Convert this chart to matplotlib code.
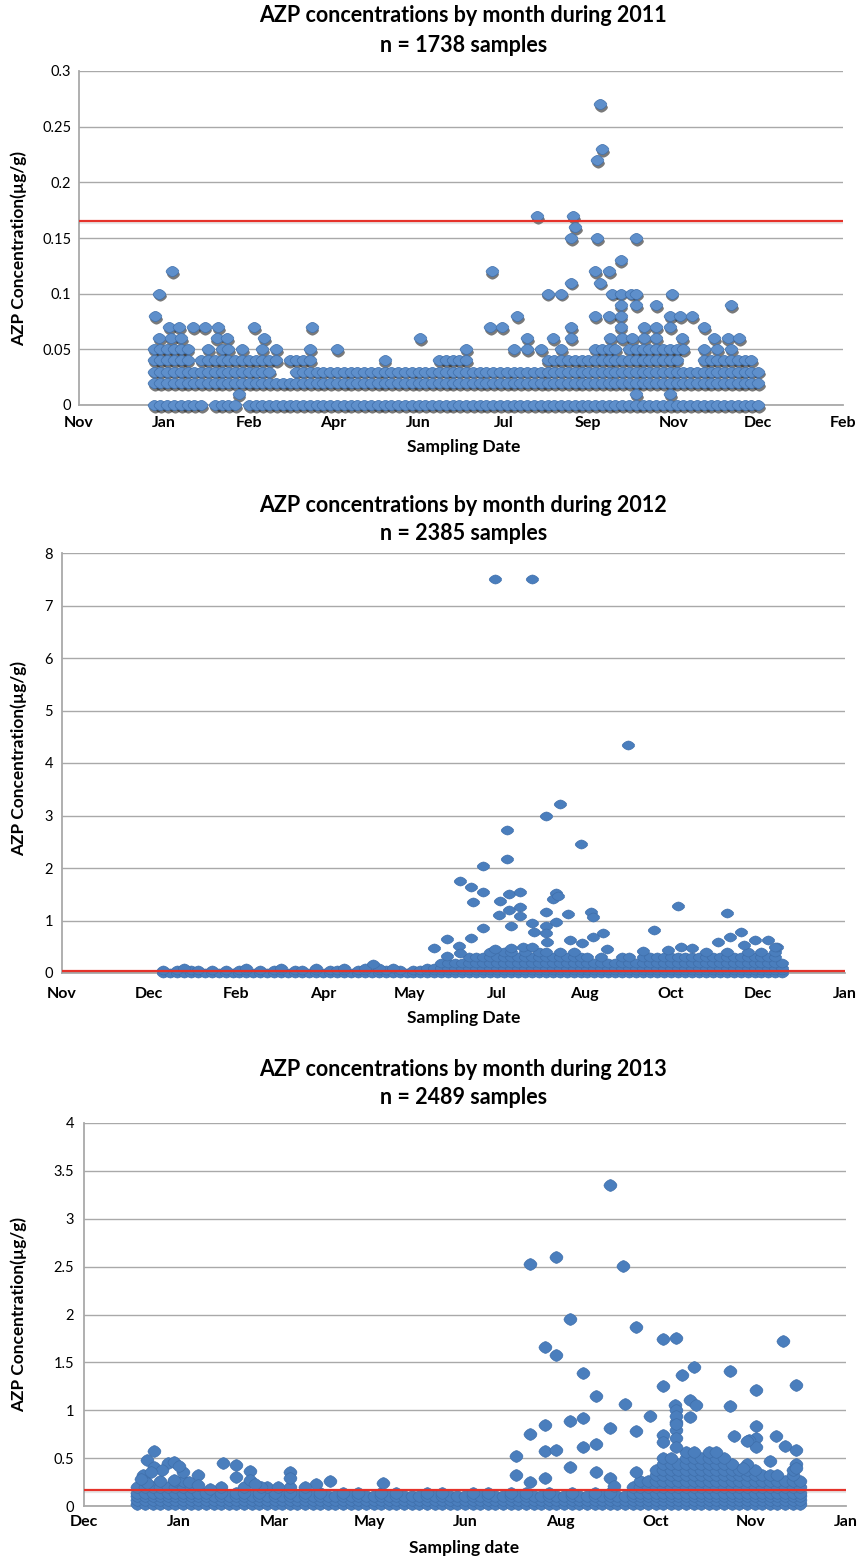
import numpy as np
import matplotlib
matplotlib.use("Agg")
import matplotlib.pyplot as plt
from matplotlib.transforms import ScaledTranslation

plt.rcParams['font.family'] = ['Lato', 'DejaVu Sans']

W, H, DPI = 859, 1560, 100

# ---------------------------------------------------------------- 2011
TITLE_2011 = "AZP concentrations by month during 2011"
COUNT_2011 = "n = 1738 samples"
XLABEL_2011 = "Sampling Date"
MONTHS_2011 = ["Nov", "Jan", "Feb", "Apr", "Jun", "Jul", "Sep", "Nov", "Dec", "Feb"]
YTICKS_2011 = [0, 0.05, 0.1, 0.15, 0.2, 0.25, 0.3]
YLABELS_2011 = ["0", "0.05", "0.1", "0.15", "0.2", "0.25", "0.3"]
LIMIT_2011 = 0.165

# dense rows: one character per 4-day column, 'o' = sample present
LEVELS_2011 = [0.00, 0.02, 0.03, 0.04, 0.05]
ROWS_2011 = [
    "oooooooo.o" "ooo.oooooo" "oooooooooo" "oooooooooo" "oooooooooo"
    "oooooooooo" "oooooooooo" "oooooooooo" "oooooooooo",
    "oooooooooo" "oooooooooo" "oooooooooo" "oooooooooo" "oooooooooo"
    "oooooooooo" "oooooooooo" "oooooooooo" "oooooooooo",
    "oooooooooo" "oooooooo.." ".ooooooooo" "oooooooooo" "oooooooooo"
    "oooooooooo" "oooooooooo" "oooooooooo" "oooooooooo",
    "oooooo.ooo" "ooooooooo." "oooo......" "....o....." "..ooooo..."
    "........oo" "oooooooooo" "oooooooo.." ".oooooooo.",
    "oooooo..o." "oo.o..o.o." "...o...o.." ".........." "......o..."
    "...o.o.o.." "o....oooo." "ooooooooo." ".o.o.o....",
]
# individual samples above the dense rows (day of year, µg/g)
DAYS_2011 = [263, 264, 261, 226, 247, 248, 246, 261, 284, 275,
             11, 199, 260, 268, 246, 263,
             3, 232, 240, 270, 275, 281, 284, 305,
             275, 284, 296, 340,
             1, 214, 260, 268, 275, 304, 310, 317,
             9, 15, 23, 30, 38, 59, 93, 198, 205, 246, 275, 289, 296, 304, 324,
             3, 10, 16, 37, 43, 65, 157, 220, 235, 246, 269, 276, 282, 289,
             296, 311, 330, 338, 345,
             50, 284, 304]
VALUES_2011 = [0.27, 0.23, 0.22, 0.17, 0.17, 0.16, 0.15, 0.15, 0.15, 0.13,
               0.12, 0.12, 0.12, 0.12, 0.11, 0.11,
               0.10, 0.10, 0.10, 0.10, 0.10, 0.10, 0.10, 0.10,
               0.09, 0.09, 0.09, 0.09,
               0.08, 0.08, 0.08, 0.08, 0.08, 0.08, 0.08, 0.08,
               0.07, 0.07, 0.07, 0.07, 0.07, 0.07, 0.07, 0.07, 0.07, 0.07,
               0.07, 0.07, 0.07, 0.07, 0.07,
               0.06, 0.06, 0.06, 0.06, 0.06, 0.06, 0.06, 0.06, 0.06, 0.06,
               0.06, 0.06, 0.06, 0.06, 0.06, 0.06, 0.06, 0.06, 0.06,
               0.01, 0.01, 0.01]

# ---------------------------------------------------------------- 2012
TITLE_2012 = "AZP concentrations by month during 2012"
COUNT_2012 = "n = 2385 samples"
XLABEL_2012 = "Sampling Date"
MONTHS_2012 = ["Nov", "Dec", "Feb", "Apr", "May", "Jul", "Aug", "Oct", "Dec", "Jan"]
YTICKS_2012 = [0, 1, 2, 3, 4, 5, 6, 7, 8]
YLABELS_2012 = ["0", "1", "2", "3", "4", "5", "6", "7", "8"]
LIMIT_2012 = 0.03

LEVELS_2012 = [0.0, 0.06, 0.1, 0.2, 0.3, 0.4]
ROWS_2012 = [
    "oooooooooo" "oooooooooo" "oooooooooo" "oooooooooo" "oooooooooo"
    "oooooooooo" "oooooooooo" "oooooooooo" "oooooooooo",
    "o.o.oo.o.o" ".oo.o.oo.o" "o.o.ooo.oo" ".oo.o.oooo" "oooooooooo"
    "oooooooooo" "oooooooooo" "oooooooooo" "oooooooooo",
    "...o......" "..o....o.." "..o...o..o" ".o.o....oo" "oooooooooo"
    "oooooooooo" "oooooooooo" "oooooooooo" "oooooooooo",
    ".........." ".........." ".........." ".........." "oooooooooo"
    "oooooooooo" "oooooooooo" "oooooooooo" "oooooooooo",
    ".........." ".........." ".........." ".........." "....oooooo"
    "oooooooooo" "oo.o..oo.o" "oooooooooo" "ooooooooo.",
    ".........." ".........." ".........." ".........." ".......o.o"
    "o.o.oo.o.o" ".........." "........o." ".o..o.o.o.",
]
DAYS_2012 = [191, 212, 267, 228, 220, 198, 240, 198, 184, 171, 177, 184,
             178, 194, 199, 205, 193, 199, 205, 205, 200, 184, 226, 224,
             227, 220, 233, 246, 247, 226, 212, 213, 220, 220, 253, 247,
             296, 282, 324, 332, 326, 348, 353, 177, 163, 156, 170, 171,
             163, 234, 241, 191, 200, 207, 212, 221, 255, 276, 290, 298,
             304, 319, 334, 340, 352, 121]
VALUES_2012 = [7.5, 7.5, 4.35, 3.22, 3.0, 2.72, 2.45, 2.17, 2.03, 1.76, 1.64, 1.54,
               1.36, 1.38, 1.5, 1.55, 1.1, 1.2, 1.25, 1.08, 0.9, 0.86, 1.53, 1.41,
               1.46, 1.17, 1.13, 1.17, 1.06, 0.97, 0.95, 0.78, 0.9, 0.76, 0.76, 0.68,
               1.28, 0.82, 1.14, 0.78, 0.68, 0.63, 0.5, 0.67, 0.65, 0.48, 0.52, 0.38,
               0.32, 0.63, 0.58, 0.46, 0.48, 0.5, 0.5, 0.6, 0.46, 0.41, 0.44, 0.5,
               0.48, 0.6, 0.54, 0.62, 0.5, 0.17]

# ---------------------------------------------------------------- 2013
TITLE_2013 = "AZP concentrations by month during 2013"
COUNT_2013 = "n = 2489 samples"
XLABEL_2013 = "Sampling date"
MONTHS_2013 = ["Dec", "Jan", "Mar", "May", "Jun", "Aug", "Oct", "Nov", "Jan"]
YTICKS_2013 = [0, 0.5, 1, 1.5, 2, 2.5, 3, 3.5, 4]
YLABELS_2013 = ["0", "0.5", "1", "1.5", "2", "2.5", "3", "3.5", "4"]
LIMIT_2013 = 0.165

LEVELS_2013 = [0.02, 0.06, 0.1, 0.14, 0.2, 0.26, 0.32, 0.38, 0.44, 0.5, 0.56]
ROWS_2013 = [
    ".ooooooooo" "oooooooooo" "oooooooooo" "oooooooooo" "oooooooooo"
    "oooooooooo" "oooooooooo" "oooooooooo" "ooooooooo.",
    ".ooooooooo" "oooooooooo" "oooooooooo" "oooooooooo" "oooooooooo"
    "oooooooooo" "oooooooooo" "oooooooooo" "ooooooooo.",
    ".ooooooooo" "oooooooooo" "oooooooooo" "oooooooooo" "oooooooooo"
    "oooooooooo" "oooooooooo" "oooooooooo" "ooooooooo.",
    ".ooooooooo" "o.o.oo.o.o" ".o.o.o..o." "o..o.o...o" ".o...o.o.."
    "o.o..o..o." ".o.o..oooo" "oooooooooo" "ooooooooo.",
    ".oooooooo." "..o..o..o." ".o........" ".........." ".........."
    ".........." "......oooo" "oooooooooo" "ooooooooo.",
    "..o.o.oo.." ".........." ".........." ".........." ".........."
    ".........." ".......ooo" "oooooooooo" "ooooooooo.",
    ".........." ".........." ".........." ".........." ".........."
    ".........." ".........o" "oooooooooo" "oooooo.o..",
    ".........." ".........." ".........." ".........." ".........."
    ".........." ".........o" "oooooooooo" "ooo....o..",
    ".........." ".........." ".........." ".........." ".........."
    ".........." ".........." "oooooooooo" ".o........",
    ".........." ".........." ".........." ".........." ".........."
    ".........." ".........." "oo.oooooo." "..........",
    ".........." ".........." ".........." ".........." ".........."
    ".........." ".........." "...oo.oo.." "..........",
]
DAYS_2013 = [252, 224, 210, 259, 231, 266, 280, 287, 343, 218, 224, 238,
             296, 290, 315, 280, 329, 350, 245, 260, 286, 294, 297, 315,
             287, 273, 294, 231, 238, 218, 252, 287, 287, 287, 287, 266,
             210, 329, 329, 280, 280, 317, 339, 325, 218, 218, 224, 238,
             245, 245, 344, 350, 350, 350, 203, 203, 231, 266, 210, 252,
             336, 254, 322, 329, 324, 287, 287,
             13, 9, 7, 13, 20, 23, 17, 28, 36, 23, 9, 31, 49, 56, 56, 63,
             63, 84, 84, 78, 69, 66, 105, 98, 92, 133, 42, 36, 11, 26, 6]
VALUES_2013 = [3.35, 2.6, 2.53, 2.51, 1.95, 1.87, 1.74, 1.75, 1.72, 1.66, 1.58, 1.39,
               1.45, 1.37, 1.41, 1.25, 1.21, 1.26, 1.15, 1.07, 1.06, 1.11, 1.06, 1.04,
               1.0, 0.94, 0.93, 0.89, 0.92, 0.85, 0.81, 0.88, 0.79, 0.71, 0.62, 0.78,
               0.75, 0.84, 0.71, 0.74, 0.67, 0.73, 0.73, 0.69, 0.57, 0.29, 0.58, 0.62,
               0.65, 0.36, 0.63, 0.58, 0.44, 0.4, 0.52, 0.32, 0.41, 0.36, 0.25, 0.29,
               0.47, 0.21, 0.4, 0.62, 0.68, 0.94, 0.86,
               0.57, 0.48, 0.32, 0.41, 0.45, 0.46, 0.38, 0.36, 0.32, 0.27, 0.24, 0.25,
               0.45, 0.43, 0.3, 0.37, 0.27, 0.36, 0.29, 0.2, 0.2, 0.23, 0.26, 0.23,
               0.2, 0.24, 0.18, 0.22, 0.35, 0.42, 0.28]

ROW_STEP = 4  # days per character in the dense rows


def rounded_diamond(aspect, p=1.55, n=32):
    """Soft diamond outline (between a rhombus and an ellipse)."""
    t = np.linspace(0, 2 * np.pi, n, endpoint=False)
    c, s = np.cos(t), np.sin(t)
    xs = np.sign(c) * np.abs(c) ** (2 / p)
    ys = aspect * np.sign(s) * np.abs(s) ** (2 / p)
    return list(zip(xs, ys))


def collect(levels, rows, days, values):
    xs, ys = [], []
    for level, row in zip(levels, rows):
        for col, ch in enumerate(row):
            if ch == "o":
                xs.append(col * ROW_STEP)
                ys.append(level)
    return np.array(xs + days, float), np.array(ys + values, float)


fig = plt.figure(figsize=(W / DPI, H / DPI), dpi=DPI)


def px_axes(left, top, right, bottom):
    return fig.add_axes([left / W, 1 - bottom / H, (right - left) / W, (bottom - top) / H])


def px_text(x, y, s, **kw):
    fig.text(x / W, 1 - y / H, s, ha="center", va="center", **kw)


GRID = "#a9a9a9"
BLUE = "#4a7ebd"
RED = "#e5322a"

panels = [
    dict(box=(79, 71, 843, 405), start=-44, span=450, months=MONTHS_2011,
         yt=YTICKS_2011, yl=YLABELS_2011, limit=LIMIT_2011,
         data=collect(LEVELS_2011, ROWS_2011, DAYS_2011, VALUES_2011),
         title=(TITLE_2011, COUNT_2011, 16, 45), xlab=(XLABEL_2011, 447), ylab_y=249,
         ms=9.2, aspect=0.8, shadow=True, face="#5e8fcb", xpad=8.0, ypad=5.5),
    dict(box=(62, 553, 845, 973), start=-58, span=450, months=MONTHS_2012,
         yt=YTICKS_2012, yl=YLABELS_2012, limit=LIMIT_2012,
         data=collect(LEVELS_2012, ROWS_2012, DAYS_2012, VALUES_2012),
         title=(TITLE_2012, COUNT_2012, 506, 534), xlab=(XLABEL_2012, 1018), ylab_y=758,
         ms=9.0, aspect=0.72, shadow=False, face=BLUE, xpad=10.0, ypad=6.5),
    dict(box=(84, 1123, 846, 1506), start=-24, span=400, months=MONTHS_2013,
         yt=YTICKS_2013, yl=YLABELS_2013, limit=LIMIT_2013,
         data=collect(LEVELS_2013, ROWS_2013, DAYS_2013, VALUES_2013),
         title=(TITLE_2013, COUNT_2013, 1069, 1097), xlab=(XLABEL_2013, 1548), ylab_y=1315,
         ms=9.4, aspect=0.9, shadow=False, face=BLUE, xpad=6.5, ypad=7.0),
]

for p in panels:
    ax = px_axes(*p["box"])
    x, y = p["data"]
    size = p["ms"] ** 2
    marker = rounded_diamond(p["aspect"])
    if p["shadow"]:
        off = ax.transData + ScaledTranslation(0.6 / 72, -2.0 / 72, fig.dpi_scale_trans)
        ax.scatter(x, y, s=size, marker=marker, color="#202020", alpha=0.6,
                   linewidths=0, transform=off, zorder=2, clip_on=False)
    ax.scatter(x, y, s=size, marker=marker, facecolor=p["face"],
               edgecolor="#3f6fab", linewidths=0.5, zorder=3, clip_on=False)

    # soft drop shadow under the limit line
    shade = ax.transData + ScaledTranslation(0, -1.3 / 72, fig.dpi_scale_trans)
    ax.plot([p["start"], p["start"] + p["span"]], [p["limit"]] * 2, color="#7a7a7a",
            lw=1.6, alpha=0.18, transform=shade, zorder=4, solid_capstyle="butt")
    ax.axhline(p["limit"], color=RED, lw=1.6, zorder=5)

    ax.set_xlim(p["start"], p["start"] + p["span"])
    ax.set_ylim(p["yt"][0], p["yt"][-1])
    ticks = [p["start"] + 50 * k for k in range(len(p["months"]))]
    ax.set_xticks(ticks, p["months"])
    ax.set_yticks(p["yt"], p["yl"])
    ax.grid(axis="y", color=GRID, lw=1.0)
    ax.set_axisbelow(True)
    for side in ("top", "right"):
        ax.spines[side].set_visible(False)
    for side in ("left", "bottom"):
        ax.spines[side].set_color(GRID)
        ax.spines[side].set_linewidth(1.3)
    ax.tick_params(length=0)
    ax.tick_params(axis="x", pad=p["xpad"], labelsize=11.5)
    ax.tick_params(axis="y", pad=p["ypad"], labelsize=10.5)
    for lab in ax.get_xticklabels():
        lab.set_fontweight("bold")

    t1, t2, ty1, ty2 = p["title"]
    px_text(463, ty1, t1, fontsize=15.5, fontweight="bold")
    px_text(464, ty2, t2, fontsize=15.5, fontweight="bold")
    px_text(464, p["xlab"][1], p["xlab"][0], fontsize=12.6, fontweight="bold")
    px_text(19, p["ylab_y"], "AZP Concentration(µg/g)", fontsize=12.4,
            fontweight="bold", rotation=90)

fig.savefig("out.png", dpi=DPI)
